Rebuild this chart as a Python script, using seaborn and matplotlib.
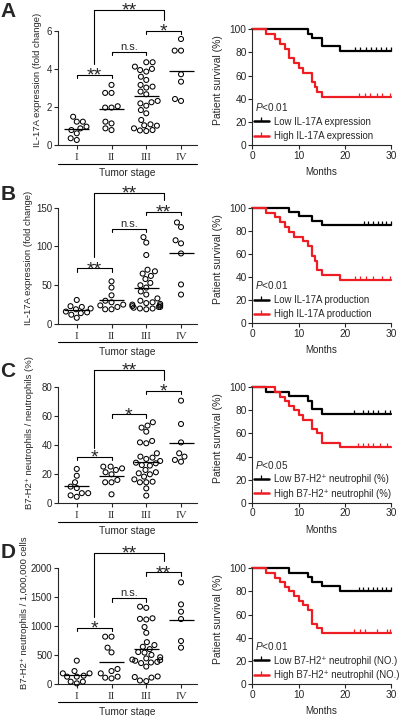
# -*- coding: utf-8 -*-
import numpy as np
import pandas as pd
import seaborn as sns
import matplotlib.pyplot as plt
import matplotlib.transforms as mtransforms
from matplotlib.lines import Line2D

W, H = 400, 716
STAGES = ['I', 'II', 'III', 'IV']
RED = '#ee1d23'

# ---- A: IL-17A expression (fold change) by tumor stage ----
a_I = [1.50, 1.24, 1.24, 0.98, 0.89, 0.80, 0.63, 0.28, 0.37]
a_II = [3.17, 2.75, 2.75, 2.05, 1.98, 1.98, 1.24, 1.15, 0.80, 0.89]
a_III = [4.36, 4.36, 4.13, 4.01, 3.95, 3.87, 3.60, 3.43, 3.17, 3.08, 3.03, 2.82, 2.68, 2.33,
         2.26, 2.20, 2.08, 1.85, 1.68, 1.33, 1.10, 1.05, 1.03, 0.89, 0.80, 0.78, 0.75]
a_IV = [5.58, 4.97, 4.97, 3.73, 3.34, 2.43, 2.33]
a_mean = [0.86, 1.88, 2.59, 3.90]

# ---- B: IL-17A expression (fold change), second cohort ----
b_I = [31, 23, 22, 20, 16, 15, 14, 12, 8, 19]
b_II = [55, 47, 37, 30, 28, 25, 24, 22, 19, 19]
b_III = [112, 105, 89, 70, 68, 65, 62, 58, 53, 50, 47, 42, 38, 33, 30, 28, 27, 26, 25, 24,
         23, 22, 22, 21, 20, 20, 19]
b_IV = [131, 125, 108, 104, 91, 51, 38]
b_mean = [18, 31, 46, 92]

# ---- C: B7-H2+ neutrophils / neutrophils (%) ----
c_I = [23.7, 19, 14.5, 11.5, 10.5, 7, 7, 5.5, 4.5]
c_II = [25.3, 25.3, 24.1, 23, 21.4, 20, 16.1, 14.5, 14.5, 6.2]
c_III = [55.9, 53.6, 52.2, 49.4, 43, 42, 41.4, 34.5, 32.2, 31.5, 30.6, 29.2, 28, 27.6, 26.4,
         26, 23, 21.4, 20.7, 20, 18.4, 16.5, 14.9, 14.5, 14.5, 10.3, 5.3]
c_IV = [70.8, 54.7, 42, 34.5, 32.2, 29.9, 28.7]
c_mean = [12, 18.9, 28.3, 41.4]

# ---- D: B7-H2+ neutrophils / 1,000,000 cells ----
d_I = [401, 183, 183, 223, 126, 143, 126, 40, 40, 11]
d_II = [814, 814, 625, 544, 258, 223, 183, 126, 97, 109]
d_III = [1330, 1310, 1130, 1120, 1110, 980, 880, 720, 670, 640, 600, 550, 540, 500, 460, 440,
         420, 410, 400, 380, 370, 360, 300, 130, 120, 110, 60, 50]
d_IV = [1748, 1369, 1243, 1117, 739, 625]
d_mean = [155, 372, 602, 1100]

# ---- survival curves: event times (months) / survival (%) / censor times ----
a_low_t = [0, 12, 13, 15, 19]
a_low_s = [100, 96.3, 92.6, 85.2, 81.5]
a_low_cens = [22.3, 23.4, 24.5, 25.6, 26.7, 27.8, 28.9, 29.9]
a_high_t = [0, 3, 5, 6, 7, 8, 9, 10, 11, 13, 13.5, 14, 15]
a_high_s = [100, 95.8, 91.7, 87.5, 83.3, 75, 70.8, 66.7, 62.5, 54.2, 50, 45.8, 41.7]
a_high_cens = [23.1, 24.4, 25.4, 26.9, 28.0, 29.8]

b_low_t = [0, 8, 10, 13, 15]
b_low_s = [100, 96.3, 92.6, 88.9, 85.2]
b_low_cens = [24.1, 25.1, 26.1, 27.1, 28.1, 29.0, 29.9]
b_high_t = [0, 3, 5, 6, 7, 8, 9, 11, 12, 13, 13.5, 14, 15, 19]
b_high_s = [100, 95.8, 91.7, 87.5, 83.3, 79.2, 75, 70.8, 66.7, 58.3, 54.2, 45.8, 41.7, 37.5]
b_high_cens = [22.3, 23.3, 24.5, 26.2, 28.1, 29.7]

c_low_t = [0, 3, 8, 12, 13, 15]
c_low_s = [100, 96.2, 92.3, 88.5, 80.8, 76.9]
c_low_cens = [22.0, 24.0, 25.1, 26.2, 27.2, 28.7, 29.8]
c_high_t = [0, 5, 6, 7, 8, 9, 10, 11, 13, 14, 15, 19]
c_high_s = [100, 96, 92, 88, 84, 80, 76, 72, 64, 60, 52, 48]
c_high_cens = [22.9, 23.9, 25.1, 26.2, 27.6, 29.1]

d_low_t = [0, 8, 12, 13, 15, 19]
d_low_s = [100, 96.2, 92.3, 88.5, 84.6, 80.8]
d_low_cens = [23.0, 24.0, 25.0, 26.0, 27.0, 28.0, 29.0, 29.9]
d_high_t = [0, 3, 5, 6, 7, 8, 9, 10, 11, 12, 13, 14, 15]
d_high_s = [100, 96, 92, 88, 84, 80, 76, 72, 68, 64, 52, 48, 44]
d_high_cens = [22.0, 23.2, 24.4, 26.9, 29.1, 29.8]

sns.set_style('ticks')
plt.rcParams['font.family'] = ['Liberation Sans', 'DejaVu Sans']
plt.rcParams['mathtext.fontset'] = 'custom'
plt.rcParams['mathtext.rm'] = 'Liberation Sans'
plt.rcParams['mathtext.it'] = 'Liberation Sans:italic'
plt.rcParams['mathtext.bf'] = 'Liberation Sans:bold'
plt.rcParams['axes.linewidth'] = 0.8

fig = plt.figure(figsize=(W / 100, H / 100), dpi=100)


def px_axes(x0, x1, top, bottom):
    return fig.add_axes([x0 / W, 1 - bottom / H, (x1 - x0) / W, (bottom - top) / H])


def sig_text(ax, x, y, label, trans):
    if label == 'n.s.':
        ax.annotate(label, xy=(x, y), xycoords=trans, xytext=(0, 1.3), textcoords='offset points',
                    ha='center', va='baseline', fontsize=8, annotation_clip=False)
    else:
        ax.annotate(label, xy=(x, y), xycoords=trans, xytext=(0, -4.2), textcoords='offset points',
                    ha='center', va='baseline', fontsize=14, annotation_clip=False)


def plot_scatter(ax, groups, means, ytop, yticks, ylabel, sigs, levels, label_xy, h_px):
    df = pd.DataFrame({'stage': np.repeat(STAGES, [len(g) for g in groups]),
                       'value': np.concatenate(groups)})
    sns.swarmplot(data=df, x='stage', y='value', order=STAGES, ax=ax, size=3.6,
                  color='black', facecolor='none', edgecolor='black', linewidth=0.75,
                  clip_on=False)
    pos = np.arange(len(STAGES))
    ax.hlines(means, pos - 0.36, pos + 0.36, color='black', lw=0.9, zorder=4)

    ax.set_xlim(-0.54, 3.46)
    ax.set_ylim(0, ytop)
    ax.set_yticks(yticks)
    ax.set_yticklabels([f'{t:g}' for t in yticks])
    sns.despine(ax=ax)
    ax.tick_params(axis='y', length=2.6, width=0.8, labelsize=7, pad=1.5)
    ax.tick_params(axis='x', length=2.6, width=0.8, labelsize=8, pad=3, labelcolor='#333333')
    for lbl in ax.get_xticklabels():
        lbl.set_fontfamily('Liberation Serif')
    ax.set_xlabel('')
    ax.set_ylabel(ylabel, fontsize=6.8)
    ax.yaxis.set_label_coords(*label_xy)

    # line under tick labels + stage title
    ax.plot([0, 1], [-18.3 / h_px] * 2, color='black', lw=0.8, transform=ax.transAxes, clip_on=False)
    ax.text(0.5, -28 / h_px, 'Tumor stage', ha='center', va='center', fontsize=7.3,
            transform=ax.transAxes)

    trans = mtransforms.blended_transform_factory(ax.transData, ax.transAxes)
    drop = 3.3 / h_px
    for (x1, x2), lab, lev in zip([(0, 1), (1, 2), (2, 3)], sigs[:3], levels[:3]):
        ax.plot([x1, x1, x2, x2], [lev - drop, lev, lev, lev - drop], color='black', lw=0.8,
                transform=trans, clip_on=False)
        sig_text(ax, (x1 + x2) / 2, lev, lab, trans)
    top, left_bottom, right_bottom = levels[3:]
    ax.plot([0.5, 0.5, 2.5, 2.5], [left_bottom, top, top, right_bottom], color='black', lw=0.8,
            transform=trans, clip_on=False)
    sig_text(ax, 1.5, top, sigs[3], trans)


def plot_survival(ax, low, high, labels, pval):
    for (t, s, cens), color in zip([low, high], ['black', RED]):
        sns.lineplot(x=t + [30], y=s + [s[-1]], ax=ax, color=color, lw=1.6,
                     drawstyle='steps-post', estimator=None, clip_on=False)
        ax.plot(cens, [s[-1]] * len(cens), ls='none', marker=2, ms=3.2, mew=0.9, color=color,
                clip_on=False)
    ax.set_xlim(0, 30)
    ax.set_ylim(0, 100)
    ax.set_xticks([0, 10, 20, 30])
    ax.set_yticks([0, 20, 40, 60, 80, 100])
    sns.despine(ax=ax)
    ax.tick_params(length=2.6, width=0.8, labelsize=7.3, pad=1.5)
    ax.set_xlabel('Months', fontsize=7)
    ax.xaxis.set_label_coords(0.5, -0.19)
    ax.set_ylabel('Patient survival (%)', fontsize=7.5)
    ax.yaxis.set_label_coords(-0.21, 0.56)

    ax.text(0.02, 0.33, pval, fontsize=7.2, transform=ax.transAxes, va='center', ha='left')
    handles = [Line2D([], [], color=c, lw=1.8, marker=2, ms=2.6, mew=0.9) for c in ['black', RED]]
    ax.legend(handles, labels, loc='lower left', bbox_to_anchor=(0.01, 0.035), frameon=False,
              fontsize=6.9, handlelength=1.6, handletextpad=0.5, labelspacing=0.45,
              borderpad=0, borderaxespad=0)


def main():
    left_rows = [(31, 145.3), (207.7, 324), (387.3, 503.3), (567.7, 684)]
    right_rows = [(29.3, 145), (207.7, 323.3), (387.3, 502.7), (568.3, 684)]
    letters = ['A', 'B', 'C', 'D']
    letter_base = [16.7, 200, 376.7, 558.3]

    scatter_specs = [
        ([a_I, a_II, a_III, a_IV], a_mean, 6, [0, 2, 4, 6], 'IL-17A expression (fold change)',
         ['**', 'n.s.', '*', '**'], [0.615, 0.819, 1.0, 1.184, 0.71, 1.096], (-0.115, 0.571)),
        ([b_I, b_II, b_III, b_IV], b_mean, 150, [0, 50, 100, 150], 'IL-17A expression (fold change)',
         ['**', 'n.s.', '**', '**'], [0.479, 0.817, 0.962, 1.129, 0.579, 1.066], (-0.18, 0.572)),
        ([c_I, c_II, c_III, c_IV], c_mean, 80, [0, 20, 40, 60, 80],
         'B7-H2⁺ neutrophils / neutrophils (%)',
         ['*', '*', '*', '**'], [0.40, 0.767, 0.968, 1.149, 0.474, 1.063], (-0.17, 0.61)),
        ([d_I, d_II, d_III, d_IV], d_mean, 2000, [0, 500, 1000, 1500, 2000],
         'B7-H2⁺ neutrophils / 1,000,000 cells',
         ['*', 'n.s.', '**', '**'], [0.484, 0.737, 0.96, 1.129, 0.579, 1.06], (-0.21, 0.615)),
    ]
    survival_specs = [
        ((a_low_t, a_low_s, a_low_cens), (a_high_t, a_high_s, a_high_cens),
         ['Low IL-17A expression', 'High IL-17A expression'], '$P$<0.01'),
        ((b_low_t, b_low_s, b_low_cens), (b_high_t, b_high_s, b_high_cens),
         ['Low IL-17A production', 'High IL-17A production'], '$P$<0.01'),
        ((c_low_t, c_low_s, c_low_cens), (c_high_t, c_high_s, c_high_cens),
         ['Low B7-H2⁺ neutrophil (%)', 'High B7-H2⁺ neutrophil (%)'], '$P$<0.05'),
        ((d_low_t, d_low_s, d_low_cens), (d_high_t, d_high_s, d_high_cens),
         ['Low B7-H2⁺ neutrophil (NO.)', 'High B7-H2⁺ neutrophil (NO.)'], '$P$<0.01'),
    ]

    for i in range(4):
        top, bottom = left_rows[i]
        ax = px_axes(58, 197, top, bottom)
        groups, means, ytop, yticks, ylabel, sigs, levels, label_xy = scatter_specs[i]
        plot_scatter(ax, groups, means, ytop, yticks, ylabel, sigs, levels, label_xy, bottom - top)

        top, bottom = right_rows[i]
        ax = px_axes(252.3, 391, top, bottom)
        low, high, labels, pval = survival_specs[i]
        plot_survival(ax, list(map(list, low)), list(map(list, high)), labels, pval)

        fig.text(0.5 / W, 1 - letter_base[i] / H, letters[i], fontsize=15, fontweight='bold',
                 ha='left', va='baseline')

    fig.savefig('out.png', dpi=100)


if __name__ == '__main__':
    main()
